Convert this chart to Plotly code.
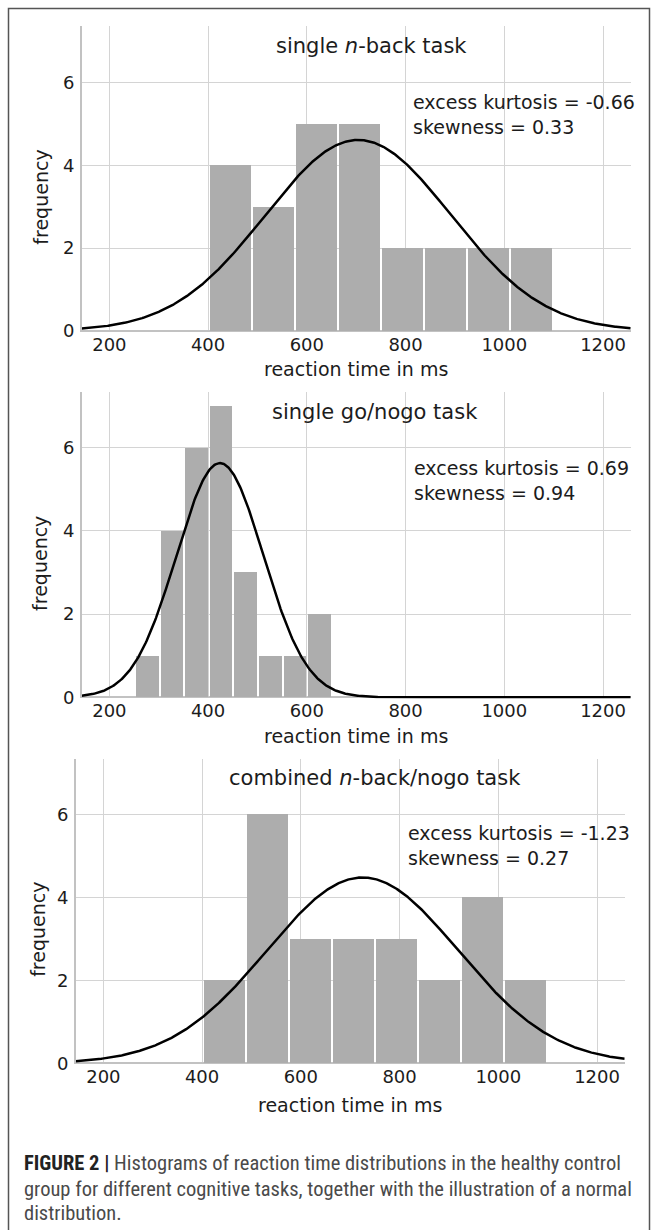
import numpy as np
import plotly.graph_objects as go

W, H = 657, 1230

# ---------------- data ----------------
panel_titles = ["single <i>n</i>-back task", "single go/nogo task", "combined <i>n</i>-back/nogo task"]

# histogram bins: first bin start (ms), bin width (ms), counts per bin
nback_bin_start, nback_bin_width = 402, 87.0
nback_counts = [4, 3, 5, 5, 2, 2, 2, 2]

gonogo_bin_start, gonogo_bin_width = 252, 49.7
gonogo_counts = [1, 4, 6, 7, 3, 1, 1, 2]

combined_bin_start, combined_bin_width = 401, 87.1
combined_counts = [2, 6, 3, 3, 3, 2, 4, 2]

# fitted normal distribution (mean, sd in ms) drawn over each histogram
nback_mean, nback_sd = 704, 188
gonogo_mean, gonogo_sd = 424, 88
combined_mean, combined_sd = 725, 194

kurtosis_labels = ["excess kurtosis = -0.66", "excess kurtosis = 0.69", "excess kurtosis = -1.23"]
skewness_labels = ["skewness = 0.33", "skewness = 0.94", "skewness = 0.27"]

x_tickvals = [200, 400, 600, 800, 1000, 1200]
y_tickvals = [0, 2, 4, 6]
x_label = "reaction time in ms"
y_label = "frequency"

caption_lines = [
    "<b><span style='color:#222222'>FIGURE 2 |</span></b> Histograms of reaction time distributions in the healthy control",
    "group for different cognitive tasks, together with the illustration of a normal",
    "distribution.",
]

# ---------------- layout helpers (window pixel -> paper) ----------------
SY = 1.0085  # small vertical stretch measured against the reference

def px(x):
    return x / W

def py(y):
    return 1 - y * SY / H

FONT = "DejaVu Sans, Verdana, sans-serif"
TXT = "#1c1c1c"
BAR = "#adadad"
GRID = "#d4d4d4"

# pixel boxes of the three plot areas: (left, right, top, bottom)
boxes = [(81.7, 630.7, 26.0, 331.7), (81.7, 630.7, 391.7, 697.7), (75.7, 624.7, 758.3, 1063.3)]
x_range = [144, 1256]
y_ranges = [[-0.03, 7.37], [-0.03, 7.34], [-0.03, 7.33]]

panels = [
    (nback_bin_start, nback_bin_width, nback_counts, nback_mean, nback_sd),
    (gonogo_bin_start, gonogo_bin_width, gonogo_counts, gonogo_mean, gonogo_sd),
    (combined_bin_start, combined_bin_width, combined_counts, combined_mean, combined_sd),
]

fig = go.Figure()
annotations = []

for i, (start, width, counts, mean, sd) in enumerate(panels):
    k = "" if i == 0 else str(i + 1)
    xa, ya = "x" + k, "y" + k
    l, r, t, b = boxes[i]
    ms_per_px = (x_range[1] - x_range[0]) / (r - l)
    n = sum(counts)
    centers = [start + (j + 0.5) * width for j in range(len(counts))]
    fig.add_trace(go.Bar(
        x=centers, y=counts, width=width - 2 * ms_per_px, xaxis=xa, yaxis=ya,
        marker=dict(color=BAR, line=dict(width=0)),
        showlegend=False, hoverinfo="x+y",
    ))
    xs = np.linspace(x_range[0], x_range[1], 600)
    ys = n * width / (sd * np.sqrt(2 * np.pi)) * np.exp(-0.5 * ((xs - mean) / sd) ** 2)
    fig.add_trace(go.Scatter(
        x=xs, y=ys, mode="lines", xaxis=xa, yaxis=ya,
        line=dict(color="black", width=2.5), showlegend=False, hoverinfo="skip",
    ))

    fig.layout["xaxis" + k] = dict(
        domain=[px(l), px(r)], range=x_range, anchor=ya,
        tickvals=x_tickvals, showgrid=True, gridcolor=GRID, gridwidth=1,
        zeroline=False, showline=False, ticks="",
        tickfont=dict(family=FONT, size=18, color=TXT), fixedrange=True,
    )
    fig.layout["yaxis" + k] = dict(
        domain=[py(b), py(t)], range=y_ranges[i], anchor=xa,
        tickvals=y_tickvals, showgrid=True, gridcolor=GRID, gridwidth=1,
        zeroline=True, zerolinecolor="#c2c2c2", zerolinewidth=2,
        showline=True, linecolor="#c2c2c2", linewidth=1.5,
        ticks="", ticklabelstandoff=2,
        tickfont=dict(family=FONT, size=18, color=TXT), fixedrange=True,
    )

    title_x = [371.7, 374.6, 375.0][i]
    title_y = [46.0, 411.7, 776.7][i]
    annotations.append(dict(
        text=panel_titles[i], x=px(title_x), y=py(title_y), xref="paper", yref="paper",
        xanchor="center", yanchor="middle", showarrow=False,
        font=dict(family=FONT, size=21, color=TXT),
    ))
    stat_x = [410.7, 411.9, 405.6][i]
    stat_y = [114.0, 479.7, 845.0][i]
    annotations.append(dict(
        text=kurtosis_labels[i] + "<br>" + skewness_labels[i],
        x=px(stat_x), y=py(stat_y), xref="paper", yref="paper",
        xanchor="left", yanchor="middle", align="left", showarrow=False,
        font=dict(family=FONT, size=19, color=TXT),
    ))
    xlab_y = [369.0, 735.0, 1104.0][i]
    annotations.append(dict(
        text=x_label, x=px((l + r) / 2), y=py(xlab_y), xref="paper", yref="paper",
        xanchor="center", yanchor="middle", showarrow=False,
        font=dict(family=FONT, size=19, color=TXT),
    ))
    ylab_x = [40.6, 40.6, 38.0][i]
    annotations.append(dict(
        text=y_label, x=px(ylab_x), y=py((t + b) / 2 + 18), xref="paper", yref="paper",
        xanchor="center", yanchor="middle", showarrow=False, textangle=-90,
        font=dict(family=FONT, size=19, color=TXT),
    ))

cap_font = "Liberation Sans Narrow, Roboto Condensed, Arial Narrow, Liberation Sans, sans-serif"
for line, yy in zip(caption_lines, [1162, 1188, 1212]):
    annotations.append(dict(
        text=line, x=px(21.7), y=py(yy), xref="paper", yref="paper",
        xanchor="left", yanchor="middle", showarrow=False,
        font=dict(family=cap_font, size=20.5, color="#4a4a4a"),
    ))

fig.update_layout(
    width=W, height=H, margin=dict(l=0, r=0, t=0, b=0),
    paper_bgcolor="white", plot_bgcolor="white",
    bargap=0, annotations=annotations,
    shapes=[dict(type="rect", xref="paper", yref="paper",
                 x0=px(8.5), x1=px(649.5), y0=-0.02, y1=py(8.5),
                 line=dict(color="#555555", width=1.5), fillcolor="rgba(0,0,0,0)", layer="below")],
)

# remove the page's default body margin so the figure sits exactly in the window
fig.write_html(
    "out.html",
    config={"displayModeBar": False},
    post_script="document.body.style.margin='0';document.body.style.overflow='hidden';",
)
